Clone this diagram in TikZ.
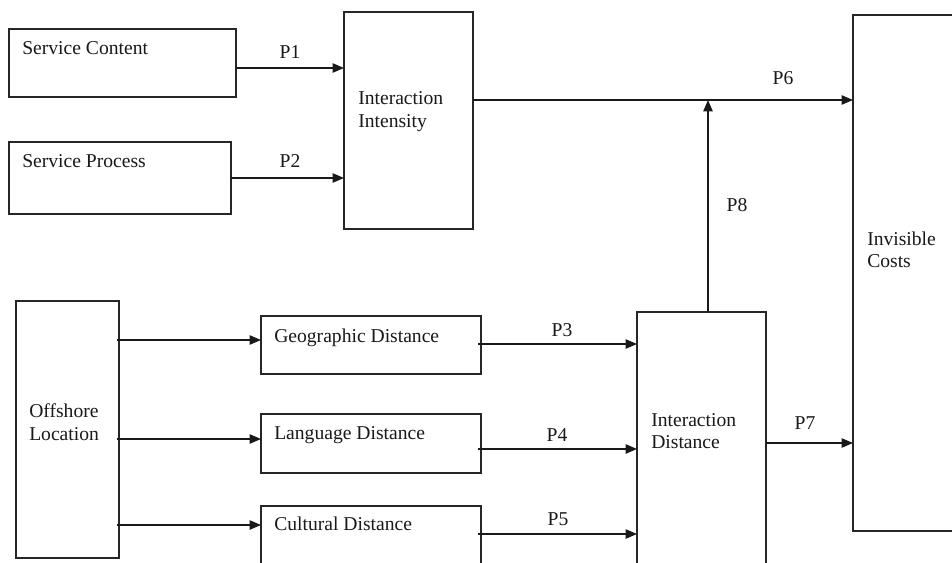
\documentclass[tikz,border=0pt]{standalone}
\usepackage{fontspec}
\setmainfont{Liberation Serif}
\usetikzlibrary{arrows.meta}
\begin{document}
\begin{tikzpicture}[x=0.75pt,y=-0.75pt,
  box/.style={draw=black!85, line width=1.3pt, anchor=north west, inner sep=0pt, outer sep=0pt},
  txt/.style={anchor=base west, inner sep=0pt, text=black!90, font=\fontsize{14.7}{17}\selectfont},
  plab/.style={anchor=base, inner sep=0pt, text=black!90, font=\fontsize{14.7}{17}\selectfont},
  arr/.style={draw=black!90, line width=1pt, -{Triangle[length=8.5pt,width=7pt]}}]
\useasboundingbox (0,0) rectangle (952,563);
\clip (0,0) rectangle (952,563);
\fill[white] (0,0) rectangle (952,563);

% boxes
\node[box, minimum width={227*0.75pt}, minimum height={68*0.75pt}] (sc) at (9,29) {};
\node[box, minimum width={222*0.75pt}, minimum height={72*0.75pt}] (sp) at (9,142) {};
\node[box, minimum width={129*0.75pt}, minimum height={217*0.75pt}] (ii) at (344,12) {};
\node[box, minimum width={130*0.75pt}, minimum height={516*0.75pt}] (ic) at (853,15) {};
\node[box, minimum width={103*0.75pt}, minimum height={257*0.75pt}] (ol) at (16,301) {};
\node[box, minimum width={220*0.75pt}, minimum height={58*0.75pt}] (gd) at (261,316) {};
\node[box, minimum width={220*0.75pt}, minimum height={59*0.75pt}] (ld) at (261,414) {};
\node[box, minimum width={220*0.75pt}, minimum height={80*0.75pt}] (cd) at (261,506) {};
\node[box, minimum width={129*0.75pt}, minimum height={280*0.75pt}] (id) at (637,312) {};

% box texts
\node[txt] (tsc) at (22,55) {Service Content};
\node[txt] (tsp) at (22,167) {Service Process};
\node[txt] (tii1) at (358,105) {Interaction};
\node[txt] (tii2) at (358,128) {Intensity};
\node[txt] (tic1) at (867,245) {Invisible};
\node[txt] (tic2) at (867,267) {Costs};
\node[txt] (tol1) at (29,417) {Offshore};
\node[txt] (tol2) at (29,440) {Location};
\node[txt] (tgd) at (274,342) {Geographic Distance};
\node[txt] (tld) at (274,439) {Language Distance};
\node[txt] (tcd) at (274,530) {Cultural Distance};
\node[txt] (tid1) at (651,426) {Interaction};
\node[txt] (tid2) at (651,448) {Distance};

% connectors
\draw[arr] (sc.east |- 0,68) -- (ii.west |- 0,68);
\draw[arr] (sp.east |- 0,178) -- (ii.west |- 0,178);
\draw[arr] (ii.east |- 0,100) -- (ic.west |- 0,100);
\coordinate (join) at (708,100);
\draw[arr] (join |- id.north) -- (join);
\draw[arr] ([xshift=-1.5pt]ol.east |- 0,340) -- (gd.west |- 0,340);
\draw[arr] ([xshift=-1.5pt]ol.east |- 0,439) -- (ld.west |- 0,439);
\draw[arr] ([xshift=-1.5pt]ol.east |- 0,525) -- (cd.west |- 0,525);
\draw[arr] ([xshift=-2pt]gd.east |- 0,344) -- (id.west |- 0,344);
\draw[arr] ([xshift=-2pt]ld.east |- 0,449) -- (id.west |- 0,449);
\draw[arr] ([xshift=-2pt]cd.east |- 0,534) -- (id.west |- 0,534);
\draw[arr] (id.east |- 0,443) -- (ic.west |- 0,443);

% path labels
\node[plab] (p1) at (290,59) {P1};
\node[plab] (p2) at (290,167) {P2};
\node[plab] (p6) at (783,85) {P6};
\node[plab] (p8) at (737,211) {P8};
\node[plab] (p3) at (562,336) {P3};
\node[plab] (p4) at (557,441) {P4};
\node[plab] (p5) at (558,525) {P5};
\node[plab] (p7) at (805,429) {P7};
\end{tikzpicture}
\end{document}
